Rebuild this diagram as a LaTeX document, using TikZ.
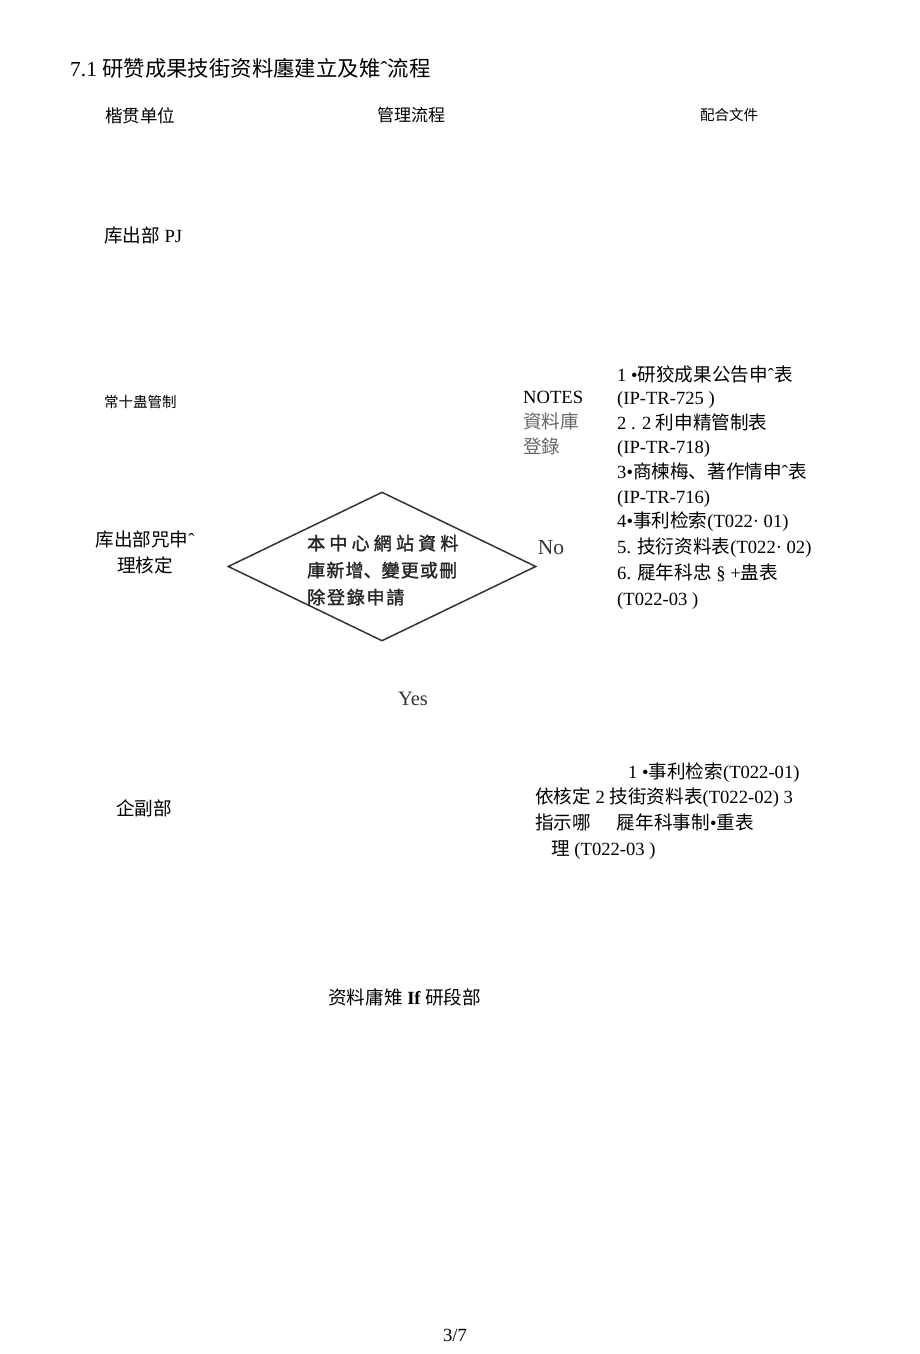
\documentclass[tikz,border=0pt]{standalone}
\usepackage{fontspec}
\setmainfont{Liberation Serif}
\newfontfamily\cjk{Noto Sans CJK SC}
\newfontfamily\cjkb[FakeBold=1.6]{Noto Sans CJK SC}
\usetikzlibrary{shapes.geometric}
\newcommand\C[1]{{\cjk #1}}
\newcommand\B[1]{{\cjkb #1}}
\newcommand\G{\hspace{4.2pt}}
\tikzset{
  txt/.style={inner sep=0pt, anchor=base west, font=\fontsize{18.6}{22}\selectfont},
  ctxt/.style={inner sep=0pt, anchor=base, font=\fontsize{18.6}{22}\selectfont},
  small/.style={inner sep=0pt, anchor=base west, font=\fontsize{14.5}{18}\selectfont},
  gate/.style={draw=black!80, line width=1.5pt, diamond, aspect=2.07, minimum width=308pt, minimum height=149pt, inner sep=0pt},
  dtxt/.style={inner sep=0pt, anchor=base west, font=\fontsize{18}{20}\selectfont, text=black!85},
}
\begin{document}
\begin{tikzpicture}[x=1pt,y=-1pt]
\useasboundingbox[fill=white] (0,0) rectangle (920,1354);
% title
\node[txt, font=\fontsize{21.4}{24}\selectfont] (title) at (70,76) {7.1 \C{研赞成果技街资料廛建立及雉}ˆ\C{流程}};
% headers
\node[txt, font=\fontsize{17.5}{20}\selectfont] (h1) at (105,122) {\C{楷贯单位}};
\node[txt, font=\fontsize{17}{20}\selectfont] (h2) at (377,121) {\C{管理流程}};
\node[small] (h3) at (700,120) {\C{配合文件}};
% left column
\node[txt] (l1) at (104,242) {\C{库出部} PJ};
\node[small] (l2) at (104,407) {\C{常十蛊管制}};
\node[ctxt] (l3a) at (145,546) {\C{库出部咒申}ˆ};
\node[ctxt] (l3b) at (145,572) {\C{理核定}};
\node[txt] (l4) at (116,815) {\C{企副部}};
% diamond
\node[gate] (d) at (382,566.5) {};
\node[dtxt] (d1) at (307,550) {\B{本}\G\B{中}\G\B{心}\G\B{網}\G\B{站}\G\B{資}\G\B{料}};
\node[dtxt] (d2) at (307,577) {\B{庫}\hspace{1.2pt}\B{新}\hspace{1.2pt}\B{增}\B{、}\B{變}\hspace{1.2pt}\B{更}\hspace{1.2pt}\B{或}\hspace{1.2pt}\B{刪}};
\node[dtxt] (d3) at (307,604) {\B{除}\hspace{1.8pt}\B{登}\hspace{1.8pt}\B{錄}\hspace{1.8pt}\B{申}\hspace{1.8pt}\B{請}};
\node[ctxt, text=black!80, font=\fontsize{21.5}{24}\selectfont] (no) at (551,554) {No};
\node[ctxt, text=black!80, font=\fontsize{20.5}{24}\selectfont] (yes) at (413,705) {Yes};
% NOTES block
\node[txt] (n1) at (523,403) {NOTES};
\node[txt, text=black!60] (n2) at (523,428) {\C{資料庫}};
\node[txt, text=black!60] (n3) at (523,453) {\C{登錄}};
% right list
\node[txt] (r1) at (617,381) {1 •\C{研狡成果公告申}ˆ\C{表}};
\node[txt] (r2) at (617,404) {(IP-TR-725 )};
\node[txt] (r3) at (617,429) {2 . 2 \C{利申精管制表}};
\node[txt] (r4) at (617,453) {(IP-TR-718)};
\node[txt] (r5) at (617,478) {3•\C{商楝梅、著作情申}ˆ\C{表}};
\node[txt] (r6) at (617,503) {(IP-TR-716)};
\node[txt] (r7) at (617,527) {4•\C{事利检索}(T022· 01)};
\node[txt] (r8) at (617,553) {5. \C{技衍资料表}(T022· 02)};
\node[txt] (r9) at (617,579) {6. \C{屣年科忠} § +\C{蛊表}};
\node[txt] (r10) at (617,605) {(T022-03 )};
% bottom block
\node[txt] (b1) at (628,778) {1 •\C{事利检索}(T022-01)};
\node[txt] (b2) at (535,803) {\C{依核定} 2 \C{技街资料表}(T022-02) 3};
\node[txt] (b3) at (535,829) {\C{指示哪}\hspace{26pt}\C{屣年科事制}•\C{重表}};
\node[txt] (b4) at (551,855) {\C{理} (T022-03 )};
% bottom unit
\node[txt] (u1) at (328,1004) {\C{资料庸雉} {\bfseries If} \C{研段部}};
% page number
\node[ctxt] (pg) at (455,1341) {3/7};
\end{tikzpicture}
\end{document}
